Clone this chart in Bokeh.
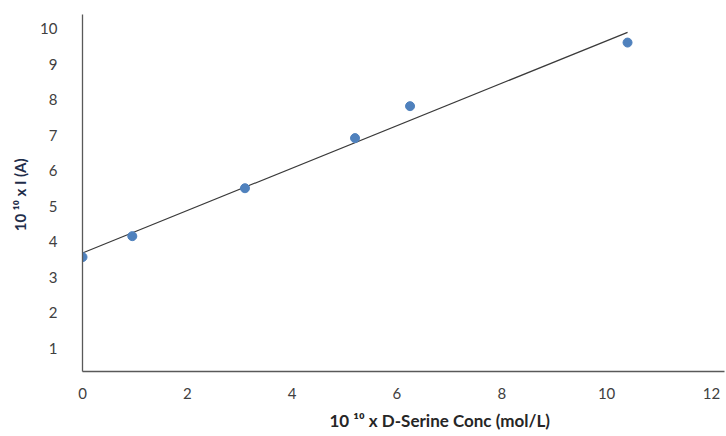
import numpy as np
from bokeh.plotting import figure
from bokeh.models import Range1d, FixedTicker, Title
from bokeh.embed import file_html
from bokeh.resources import INLINE

# Data
conc = [0.0, 0.95, 3.1, 5.2, 6.25, 10.4]           # 10^10 x D-Serine conc (mol/L)
current = [3.57, 4.16, 5.51, 6.92, 7.82, 9.61]     # 10^10 x I (A)
x_ticks = [0, 2, 4, 6, 8, 10, 12]
y_ticks = [1, 2, 3, 4, 5, 6, 7, 8, 9, 10]
x_title = "10 \u00b9\u2070 x  D-Serine Conc (mol/L)"
y_title = "10 \u00b9\u2070 x  I (A)"

slope, intercept = np.polyfit(conc, current, 1)
fit_x = [min(conc), max(conc)]
fit_y = [slope * v + intercept for v in fit_x]

p = figure(width=726, height=436, output_backend="svg", toolbar_location=None,
           x_range=Range1d(0, 12.25), y_range=Range1d(0.35, 10.4),
           min_border_left=82, min_border_right=2, min_border_top=14, min_border_bottom=64)
p.outline_line_color = None
p.grid.visible = False

p.line(fit_x, fit_y, line_color="#3a3a3a", line_width=1.2)
p.scatter(conc, current, size=9, fill_color="#4f81bd", line_color="#4f81bd")

font = "Lato"
for ax in (p.xaxis[0], p.yaxis[0]):
    ax.axis_line_color = "#595959"
    ax.axis_line_width = 1.3
    ax.major_tick_line_color = None
    ax.minor_tick_line_color = None
    ax.major_label_text_font = font
    ax.major_label_text_font_size = "15px"
    ax.major_label_text_color = "#404040"
    ax.axis_label_text_font = font
    ax.axis_label_text_font_style = "bold"

p.xaxis.ticker = FixedTicker(ticks=x_ticks)
p.yaxis.ticker = FixedTicker(ticks=y_ticks)
p.xaxis.major_label_standoff = 10
p.yaxis.major_label_standoff = 19
p.yaxis.axis_label = y_title
p.yaxis.axis_label_text_font_size = "15px"
p.yaxis.axis_label_standoff = 8
p.yaxis.axis_label_text_color = "#1f2d4a"

# x-axis title, placed off-centre below the axis as in the reference
p.add_layout(Title(text=x_title, align="left", offset=247, standoff=12,
                   text_font=font, text_font_style="bold", text_font_size="17px",
                   text_color="#262626"), "below")

open("out.html", "w").write(file_html(p, INLINE))
